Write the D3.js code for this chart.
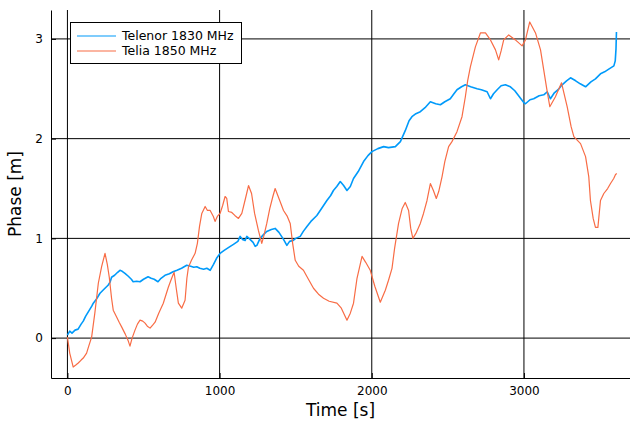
<!DOCTYPE html>
<html>
<head>
<meta charset="utf-8">
<script src="https://cdn.jsdelivr.net/npm/d3@7"></script>
<style>
  body { margin: 0; background: #fff; }
  text { font-family: "DejaVu Sans", sans-serif; fill: #000; }
</style>
</head>
<body>
<div id="chart"></div>
<script>
// Data (time in s, phase in m)
const telenorT = [0, 15, 30, 50, 70, 90, 104, 120, 140, 160, 170, 190, 214, 240, 267, 280, 290, 310, 330, 345,
  360, 378, 400, 420, 432, 455, 477, 500, 530, 550, 570, 595, 615, 641, 670, 694, 720, 750, 784, 810,
  830, 850, 870, 895, 916, 938, 960, 980, 1003, 1030, 1060, 1091, 1120, 1135, 1150, 1168, 1179, 1200, 1220, 1234,
  1245, 1266, 1290, 1310, 1340, 1365, 1390, 1420, 1442, 1460, 1484, 1500, 1530, 1550, 1574, 1600, 1639, 1670, 1705, 1730,
  1748, 1770, 1793, 1815, 1837, 1859, 1880, 1911, 1946, 1975, 2001, 2040, 2078, 2110, 2155, 2188, 2220, 2245, 2264, 2290,
  2319, 2350, 2385, 2420, 2451, 2480, 2516, 2540, 2560, 2590, 2615, 2650, 2692, 2720, 2758, 2780, 2800, 2824, 2850, 2878,
  2911, 2940, 2970, 3000, 3010, 3040, 3064, 3100, 3130, 3153, 3174, 3200, 3230, 3251, 3280, 3306, 3340, 3370, 3405, 3440,
  3470, 3503, 3530, 3560, 3591, 3600, 3605, 3608];
const telenorV = [0.03, 0.07, 0.05, 0.08, 0.09, 0.14, 0.17, 0.22, 0.27, 0.32, 0.35, 0.39, 0.45, 0.49, 0.53, 0.56, 0.61, 0.63, 0.66, 0.68,
  0.67, 0.65, 0.62, 0.59, 0.565, 0.57, 0.565, 0.59, 0.615, 0.60, 0.59, 0.565, 0.60, 0.63, 0.645, 0.665, 0.68, 0.70, 0.73, 0.72,
  0.71, 0.715, 0.70, 0.69, 0.70, 0.68, 0.74, 0.80, 0.85, 0.88, 0.91, 0.94, 0.97, 1.02, 0.99, 0.98, 1.02, 0.99, 0.96, 0.92,
  0.93, 1.00, 1.04, 1.07, 1.09, 1.10, 1.06, 0.99, 0.93, 0.97, 0.98, 1.00, 1.02, 1.07, 1.12, 1.17, 1.23, 1.30, 1.38, 1.43,
  1.48, 1.52, 1.57, 1.53, 1.48, 1.52, 1.60, 1.67, 1.77, 1.83, 1.87, 1.90, 1.92, 1.91, 1.92, 1.97, 2.08, 2.18, 2.22, 2.25,
  2.27, 2.31, 2.37, 2.35, 2.34, 2.37, 2.40, 2.45, 2.49, 2.52, 2.54, 2.52, 2.50, 2.49, 2.47, 2.40, 2.45, 2.49, 2.53, 2.54,
  2.52, 2.48, 2.42, 2.36, 2.35, 2.39, 2.40, 2.43, 2.44, 2.47, 2.40, 2.46, 2.50, 2.54, 2.58, 2.61, 2.58, 2.55, 2.52, 2.57,
  2.60, 2.65, 2.67, 2.70, 2.73, 2.78, 2.90, 3.07];

const teliaT = [0, 15, 38, 55, 71, 90, 104, 126, 140, 159, 180, 203, 225, 247, 262, 275, 290, 301, 324, 340,
  357, 380, 400, 411, 425, 444, 460, 477, 495, 510, 525, 543, 560, 576, 600, 630, 663, 685, 701, 715,
  729, 751, 773, 785, 795, 815, 839, 854, 868, 883, 905, 920, 938, 959, 970, 985, 1003, 1020, 1036, 1047,
  1058, 1080, 1100, 1124, 1146, 1170, 1190, 1210, 1230, 1255, 1277, 1290, 1310, 1330, 1350, 1365, 1390, 1420, 1445, 1464,
  1480, 1497, 1520, 1551, 1580, 1617, 1650, 1683, 1720, 1771, 1800, 1837, 1859, 1880, 1903, 1936, 1960, 1990, 2020, 2056,
  2089, 2110, 2133, 2150, 2176, 2200, 2220, 2242, 2256, 2270, 2290, 2319, 2340, 2363, 2385, 2405, 2424, 2440, 2462, 2480,
  2505, 2527, 2560, 2593, 2615, 2630, 2648, 2681, 2714, 2747, 2780, 2813, 2834, 2850, 2867, 2900, 2944, 2988, 3010, 3038,
  3076, 3109, 3130, 3150, 3170, 3207, 3247, 3284, 3310, 3328, 3372, 3405, 3426, 3437, 3455, 3470, 3486, 3503, 3525, 3550,
  3569, 3590, 3602, 3610];
const teliaV = [0.01, -0.15, -0.29, -0.27, -0.25, -0.22, -0.20, -0.15, -0.08, 0.01, 0.25, 0.55, 0.72, 0.85, 0.74, 0.61, 0.40, 0.28, 0.21, 0.16,
  0.11, 0.04, -0.03, -0.08, 0.00, 0.08, 0.14, 0.18, 0.17, 0.15, 0.12, 0.10, 0.13, 0.16, 0.25, 0.35, 0.51, 0.60, 0.66, 0.50,
  0.35, 0.30, 0.38, 0.60, 0.71, 0.78, 0.85, 0.95, 1.12, 1.25, 1.32, 1.28, 1.28, 1.22, 1.17, 1.22, 1.25, 1.33, 1.42, 1.40,
  1.27, 1.26, 1.23, 1.20, 1.25, 1.40, 1.53, 1.45, 1.25, 1.08, 0.95, 1.02, 1.15, 1.30, 1.42, 1.50, 1.40, 1.28, 1.22, 1.15,
  0.95, 0.78, 0.72, 0.68, 0.60, 0.50, 0.44, 0.40, 0.37, 0.35, 0.30, 0.18, 0.25, 0.35, 0.60, 0.82, 0.76, 0.68, 0.52, 0.36,
  0.48, 0.58, 0.70, 0.90, 1.15, 1.30, 1.36, 1.28, 1.10, 1.00, 1.05, 1.15, 1.25, 1.38, 1.55, 1.48, 1.40, 1.47, 1.62, 1.77,
  1.92, 1.97, 2.07, 2.22, 2.42, 2.58, 2.72, 2.92, 3.06, 3.06, 2.99, 2.89, 2.79, 2.88, 2.99, 3.04, 2.99, 2.93, 2.99, 3.17,
  3.06, 2.89, 2.69, 2.50, 2.32, 2.42, 2.56, 2.32, 2.12, 2.02, 1.95, 1.82, 1.62, 1.38, 1.20, 1.11, 1.11, 1.38, 1.45, 1.50,
  1.55, 1.60, 1.64, 1.65];

const xTicks = [0, 1000, 2000, 3000];
const yTicks = [0, 1, 2, 3];
const seriesNames = ['Telenor 1830 MHz', 'Telia 1850 MHz'];
const seriesColors = ['#009AFA', '#F86C45'];
// blue trace is noisy in the original, so it reads a bit heavier
const seriesWidths = [1.6, 1.2];

// Graph setup
const width = 630;
const height = 426;
const margin = { left: 51, right: 630, top: 10, bottom: 378 };

const svg = d3.select('#chart')
  .append('svg')
  .attr('width', width)
  .attr('height', height);

const x = d3.scaleLinear().domain([-108, 3697]).range([margin.left, margin.right]);
const y = d3.scaleLinear().domain([-0.4, 3.29]).range([margin.bottom, margin.top]);

// grid
svg.append('g')
  .selectAll('line')
  .data(xTicks)
  .enter()
  .append('line')
  .attr('x1', d => x(d)).attr('x2', d => x(d))
  .attr('y1', margin.top).attr('y2', margin.bottom)
  .style('stroke', '#000').style('stroke-width', 1);

svg.append('g')
  .selectAll('line')
  .data(yTicks)
  .enter()
  .append('line')
  .attr('x1', margin.left).attr('x2', margin.right)
  .attr('y1', d => y(d)).attr('y2', d => y(d))
  .style('stroke', '#000').style('stroke-width', 1);

// axes
const xAxis = svg.append('g')
  .attr('transform', `translate(0,${margin.bottom})`)
  .call(d3.axisBottom(x).tickValues(xTicks).tickSizeInner(-5).tickSizeOuter(0).tickPadding(8).tickFormat(d3.format('d')));
const yAxis = svg.append('g')
  .attr('transform', `translate(${margin.left},0)`)
  .call(d3.axisLeft(y).tickValues(yTicks).tickSizeInner(-5).tickSizeOuter(0).tickPadding(8).tickFormat(d3.format('d')));

[xAxis, yAxis].forEach(axis => {
  axis.selectAll('text').style('font-size', '12px').style('font-family', '"DejaVu Sans", sans-serif').attr('fill', '#000');
  axis.selectAll('line').attr('stroke', '#000');
  axis.select('.domain').attr('stroke', '#000');
});

// lines
const line = d3.line()
  .x(d => x(d[0]))
  .y(d => y(d[1]));

const series = [
  d3.zip(telenorT, telenorV),
  d3.zip(teliaT, teliaV)
];

svg.append('g')
  .selectAll('path')
  .data(series)
  .enter()
  .append('path')
  .attr('d', line)
  .style('fill', 'none')
  .style('stroke', (d, i) => seriesColors[i])
  .style('stroke-width', (d, i) => seriesWidths[i])
  .style('stroke-linejoin', 'round');

// axis titles
svg.append('text')
  .attr('x', (margin.left + margin.right) / 2)
  .attr('y', 416)
  .attr('text-anchor', 'middle')
  .style('font-size', '17px')
  .text('Time [s]');

svg.append('text')
  .attr('transform', `translate(21,${(margin.top + margin.bottom) / 2}) rotate(-90)`)
  .attr('text-anchor', 'middle')
  .style('font-size', '17px')
  .text('Phase [m]');

// legend
const legend = svg.append('g');
legend.append('rect')
  .attr('x', 70.5).attr('y', 22.5)
  .attr('width', 171).attr('height', 41)
  .style('fill', '#fff')
  .style('stroke', '#000')
  .style('stroke-width', 1);

const items = legend.selectAll('.item')
  .data(seriesNames)
  .enter()
  .append('g')
  .attr('class', 'item')
  .attr('transform', (d, i) => `translate(0,${36 + i * 15})`);

items.append('line')
  .attr('x1', 77).attr('x2', 116)
  .style('stroke', (d, i) => seriesColors[i])
  .style('stroke-width', 1.2);

items.append('text')
  .attr('x', 122)
  .attr('dy', '0.35em')
  .style('font-size', '12.5px')
  .text(d => d);
</script>
</body>
</html>
